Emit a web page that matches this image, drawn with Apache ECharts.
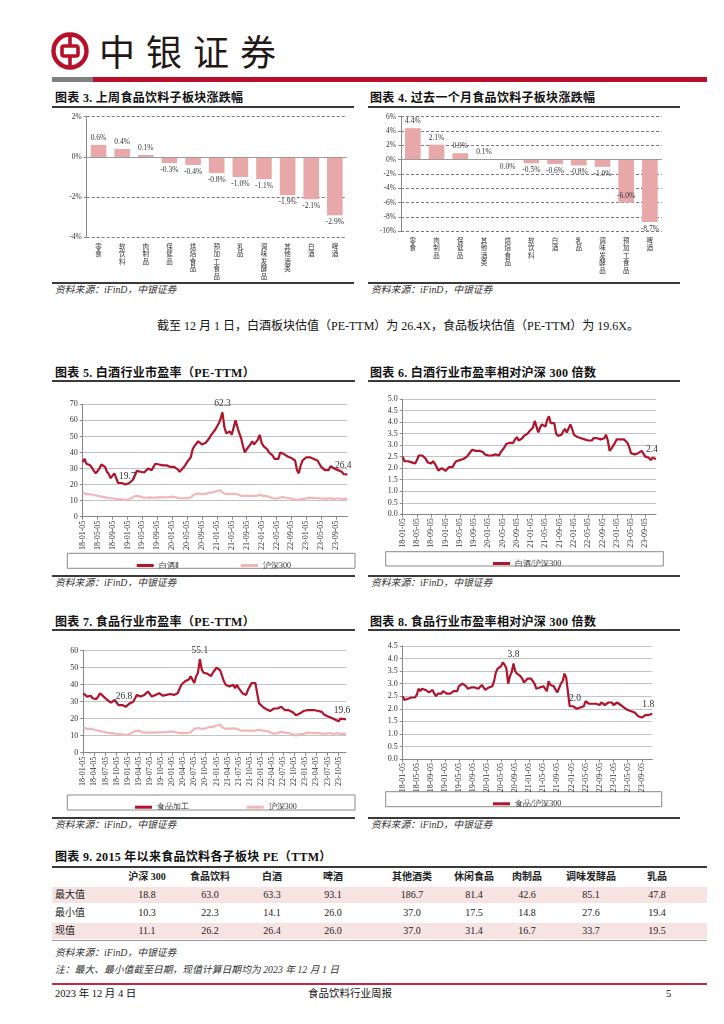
<!DOCTYPE html>
<html><head><meta charset="utf-8">
<script src="https://cdn.jsdelivr.net/npm/echarts@6/dist/echarts.min.js"></script>
<style>
html,body{margin:0;padding:0;background:#fff;}
body{width:724px;height:1024px;position:relative;overflow:hidden;font-family:"Liberation Serif","Noto Sans CJK SC",serif;color:#222;}
.a{position:absolute;white-space:nowrap;}
.t{position:absolute;white-space:nowrap;font-family:"Liberation Serif","Noto Sans CJK SC";font-weight:bold;font-size:12px;line-height:14px;color:#111;letter-spacing:0.3px;}
.hl{position:absolute;height:1.5px;background:#3a3a3a;}
.src{position:absolute;white-space:nowrap;font-style:italic;font-size:9.8px;line-height:12px;color:#333;font-family:"Liberation Serif","Noto Sans CJK SC";}
.ch{position:absolute;}
.cell{position:absolute;text-align:center;font-size:10px;line-height:14px;white-space:nowrap;}
</style></head>
<body>
<script>
// ---------------- DATA ----------------
const barCats3 = ['零食','软饮料','肉制品','保健品','烘焙食品','预加工食品','乳品','调味发酵品','其他酒类','白酒','啤酒'];
const barVals3 = [0.6,0.4,0.1,-0.3,-0.4,-0.8,-1.0,-1.1,-1.9,-2.1,-2.9];
const barCats4 = ['零食','肉制品','保健品','其他酒类','烘焙食品','软饮料','白酒','乳品','调味发酵品','预加工食品','啤酒'];
const barVals4 = [4.4,2.1,0.9,0.1,0.0,-0.5,-0.6,-0.8,-1.0,-6.0,-8.7];

// semi-monthly observation dates 18-01-05 ... 23-12-01
const pad = n => (n < 10 ? '0' : '') + n;
const dates = [];
for (let y = 18; y <= 23; y++) {
  for (let m = 1; m <= 12; m++) {
    if (y === 23 && m === 12) { dates.push('23-12-01'); break; }
    dates.push(y + '-' + pad(m) + '-05');
    dates.push(y + '-' + pad(m) + '-20');
  }
}

const baijiuPE = [
 34,36, 33,32, 32,30.5, 28.5,27, 28,30, 32.5,32, 31,28, 26.5,24, 25,27, 24,21, 20.5,21, 20,20,
 19.5,21, 22,23, 25.5,28.5, 28.5,28, 27.5,27.5, 28.5,30, 29.5,29, 31,33, 33,32.5, 32,32, 32.5,32, 31.5,31,
 31,31, 30,29.5, 28,29, 30.5,32, 34,35, 37,42, 44,44.5, 47,48, 45,45.5, 46,47, 49,51, 52,54,
 55,58, 61,65, 56,52, 52,53, 51,52, 60,56, 52,49, 44,40, 42,43, 45,47, 45,44, 48,51,
 46,44, 43,42, 40,39, 38,36, 35,36, 40,41, 39,38, 37.5,37, 36.5,36, 35,29, 27,32, 35,36,
 37,37.5, 37,37, 36,35.5, 35,33, 31,30, 29,28.5, 29,31.5, 30.5,30, 29.5,29, 28.5,28, 26.5,27, 26.4];

const hs300PE = [
 15,15.5, 14,14, 14,13.5, 13.5,13, 13,13, 12.5,12, 12,12, 11.5,11.5, 11.5,11.5, 11,11, 11,11, 10.7,10.5,
 10.5,11, 11.5,12.5, 12.8,13, 13,12.5, 12,11.5, 11.8,12, 12,12, 11.8,11.7, 12,12, 12,12, 12,12, 12.2,12.5,
 12.5,12, 12,12, 11.5,11, 11.5,11.8, 11.5,11.8, 12,12.5, 14,14, 14.5,14.5, 14,14, 14.2,14.5, 15,15, 15.2,15.5,
 16,16.2, 16.5,15, 14.5,14, 14,14.2, 14,14.3, 14.5,14, 13.5,13, 13,13, 13,13, 13,13, 13,13, 13.2,13.5,
 13.5,13, 13,12.8, 12,12, 11.5,11.2, 11.3,11.5, 12,12.3, 12.2,11.8, 11.8,11.6, 11.3,11, 10.5,10.2, 10.5,11, 11,11,
 11.3,11.8, 11.8,11.7, 11.5,11.5, 11.7,11.5, 11.3,11.2, 11.3,11.2, 11.3,11.6, 11.2,11, 11.2,11.5, 11.2,11, 11.2,11.2, 11.1];

const baijiuRel = [
 2.5,2.3, 2.35,2.3, 2.3,2.25, 2.2,2.2, 2.35,2.55, 2.6,2.55, 2.5,2.4, 2.25,2.2, 2.2,2.3, 2.2,2.05, 1.9,1.92, 2.0,2.0,
 1.88,1.95, 2.05,2.0, 2.05,2.2, 2.3,2.3, 2.35,2.4, 2.4,2.45, 2.5,2.55, 2.7,2.8, 2.75,2.75, 2.7,2.75, 2.8,2.7, 2.6,2.6,
 2.55,2.55, 2.55,2.5, 2.6,2.6, 2.55,2.7, 2.8,2.9, 3.05,3.0, 3.1,3.15, 3.1,3.25, 3.35,3.2, 3.2,3.3, 3.4,3.4, 3.5,3.6,
 3.6,3.75, 4.05,3.8, 3.55,3.75, 3.9,3.85, 3.8,4.1, 4.25,3.95, 3.9,3.95, 3.5,3.4, 3.35,3.45, 3.6,3.7, 3.55,3.6, 3.9,3.7,
 3.45,3.4, 3.35,3.35, 3.3,3.3, 3.25,3.3, 3.2,3.15, 3.2,3.3, 3.35,3.3, 3.3,3.25, 3.3,3.3, 3.45,3.2, 2.75,2.85, 2.9,3.1,
 3.25,3.3, 3.25,3.3, 3.25,3.2, 3.1,2.9, 2.65,2.6, 2.6,2.55, 2.65,2.7, 2.75,2.7, 2.5,2.45, 2.45,2.35, 2.45,2.4, 2.4];

const foodPE = [
 35,35.5, 33,34, 33.5,32, 31,31.5, 33,35, 34,33, 32,31, 30,29.5, 29,31, 30,28, 27,28, 27.5,27,
 28,29, 29.5,30, 32,34, 33.5,33, 34,34, 35,36, 34.5,33, 32,34, 34.5,35, 34,33.5, 34,34, 34,34.5,
 35,34, 34,35, 36,40, 40.5,42, 43,43, 45,46, 41,45, 47,55, 49,47, 47,46.5, 46,45, 47,48.5,
 50,49, 48.5,48, 42,40, 39,39, 38.5,40, 38,40, 38,37, 35,34, 34,37, 39,41, 40,41, 40.5,29,
 28,27, 26,25.5, 25,24.5, 25,26, 25.5,26, 26,27, 26,25, 25,25, 24.5,24, 23,22, 21.5,23, 24,24.5,
 25,25, 25,25, 25.5,25, 25,24.5, 24.5,24, 22.5,22, 21.5,21, 20.5,20, 19.5,19, 18.5,20, 19.5,19.8, 19.6];

const foodRel = [
 2.5,2.35, 2.4,2.4, 2.45,2.45, 2.45,2.45, 2.55,2.8, 2.7,2.8, 2.85,2.75, 2.7,2.65, 2.7,2.75, 2.6,2.5, 2.6,2.6, 2.6,2.7,
 2.65,2.6, 2.6,2.6, 2.55,2.7, 2.65,2.7, 2.9,2.95, 3.0,2.95, 2.9,2.8, 2.8,2.85, 2.85,2.85, 2.85,2.8, 2.85,2.95, 2.85,2.75,
 2.8,2.85, 2.9,2.9, 3.1,3.45, 3.6,3.65, 3.7,3.85, 3.75,3.6, 3.0,3.3, 3.45,3.8, 3.5,3.4, 3.35,3.3, 3.2,3.05, 3.1,3.2,
 3.15,3.2, 3.1,3.0, 2.8,2.75, 2.85,2.9, 2.9,2.85, 2.7,3.1, 2.95,2.9, 2.9,2.75, 2.65,2.7, 3.0,3.1, 3.4,3.25, 3.2,2.1,
 2.15,2.1, 2.05,2.0, 1.95,2.05, 2.05,2.1, 2.3,2.25, 2.2,2.15, 2.2,2.15, 2.2,2.2, 2.15,2.25, 2.2,2.15, 2.2,2.25, 2.3,2.25,
 2.15,2.2, 2.25,2.2, 2.15,2.1, 2.05,2.0, 1.95,1.95, 1.9,1.9, 1.85,1.85, 1.7,1.65, 1.65,1.6, 1.75,1.75, 1.75,1.8, 1.8];

// annotated points: [index, text]
const notes5 = [[24,'19.7'],[75,'62.3'],[142,'26.4']];
const notes6 = [[142,'2.4']];
const notes7 = [[22,'26.8'],[63,'55.1'],[142,'19.6']];
const notes8 = [[63,'3.8'],[98,'2.0'],[142,'1.8']];

const tblCols = ['沪深 300','食品饮料','白酒','啤酒','其他酒类','休闲食品','肉制品','调味发酵品','乳品'];
const tblRows = ['最大值','最小值','现值'];
const tblMax = [18.8,63.0,63.3,93.1,186.7,81.4,42.6,85.1,47.8];
const tblMin = [10.3,22.3,14.1,26.0,37.0,17.5,14.8,27.6,19.4];
const tblCur = [11.1,26.2,26.4,26.0,37.0,31.4,16.7,33.7,19.5];
</script>

<!-- header -->
<svg class="a" style="left:50px;top:31px" width="40" height="40" viewBox="0 0 40 40">
  <circle cx="20" cy="20" r="16.5" fill="none" stroke="#b8102a" stroke-width="4.4"/>
  <rect x="12" y="15" width="16" height="10" rx="2" fill="none" stroke="#b8102a" stroke-width="3.6"/>
  <line x1="20" y1="3" x2="20" y2="15" stroke="#b8102a" stroke-width="3.6"/>
  <line x1="20" y1="25" x2="20" y2="37" stroke="#b8102a" stroke-width="3.6"/>
</svg>
<div class="a" style="left:99px;top:27px;font-family:'Noto Sans CJK SC';font-size:36px;line-height:46px;letter-spacing:11px;color:#231815;">中银证券</div>
<div class="a" style="left:52px;top:77px;width:41px;height:5px;background:#808080"></div>
<div class="a" style="left:93px;top:77px;width:614px;height:5px;background:#b8102a"></div>

<!-- chart 3/4 titles -->
<div class="t" style="left:55px;top:91px">图表 3. 上周食品饮料子板块涨跌幅</div>
<div class="hl" style="left:52px;top:106px;width:302px"></div>
<div class="t" style="left:370px;top:91px">图表 4. 过去一个月食品饮料子板块涨跌幅</div>
<div class="hl" style="left:368px;top:106px;width:312px"></div>
<div id="c3" class="ch" style="left:52px;top:108px;width:305px;height:172px"></div>
<div id="c4" class="ch" style="left:365px;top:108px;width:320px;height:172px"></div>
<div class="hl" style="left:52px;top:282px;width:302px"></div>
<div class="src" style="left:55px;top:284px">资料来源：iFinD，中银证券</div>
<div class="hl" style="left:368px;top:282px;width:312px"></div>
<div class="src" style="left:371px;top:284px">资料来源：iFinD，中银证券</div>

<div class="a" style="left:157px;top:318px;font-size:12px;line-height:16px;color:#111;font-family:'Liberation Serif','Noto Sans CJK SC'">截至 12 月 1 日，白酒板块估值（PE-TTM）为 26.4X，食品板块估值（PE-TTM）为 19.6X。</div>

<!-- chart 5/6 -->
<div class="t" style="left:55px;top:366px">图表 5. 白酒行业市盈率（PE-TTM）</div>
<div class="hl" style="left:52px;top:380px;width:303px"></div>
<div class="t" style="left:370px;top:366px">图表 6. 白酒行业市盈率相对沪深 300 倍数</div>
<div class="hl" style="left:368px;top:380px;width:312px"></div>
<div id="c5" class="ch" style="left:52px;top:390px;width:305px;height:183px"></div>
<div id="c6" class="ch" style="left:365px;top:390px;width:320px;height:183px"></div>
<div class="hl" style="left:52px;top:575px;width:303px"></div>
<div class="src" style="left:55px;top:577px">资料来源：iFinD，中银证券</div>
<div class="hl" style="left:368px;top:575px;width:312px"></div>
<div class="src" style="left:371px;top:577px">资料来源：iFinD，中银证券</div>

<!-- chart 7/8 -->
<div class="t" style="left:55px;top:615px">图表 7. 食品行业市盈率（PE-TTM）</div>
<div class="hl" style="left:52px;top:629px;width:303px"></div>
<div class="t" style="left:370px;top:615px">图表 8. 食品行业市盈率相对沪深 300 倍数</div>
<div class="hl" style="left:368px;top:629px;width:312px"></div>
<div id="c7" class="ch" style="left:52px;top:640px;width:305px;height:176px"></div>
<div id="c8" class="ch" style="left:365px;top:640px;width:320px;height:176px"></div>
<div class="hl" style="left:52px;top:817px;width:303px"></div>
<div class="src" style="left:55px;top:819px">资料来源：iFinD，中银证券</div>
<div class="hl" style="left:368px;top:817px;width:312px"></div>
<div class="src" style="left:371px;top:819px">资料来源：iFinD，中银证券</div>

<!-- table -->
<div class="t" style="left:55px;top:850px">图表 9. 2015 年以来食品饮料各子板块 PE（TTM）</div>
<div class="hl" style="left:52px;top:866px;width:655px"></div>
<div id="tbl"></div>
<div class="src" style="left:55px;top:947px">资料来源：iFinD，中银证券</div>
<div class="src" style="left:55px;top:964px">注：最大、最小值截至日期，现值计算日期均为 2023 年 12 月 1 日</div>

<!-- footer -->
<div class="a" style="left:52px;top:983px;width:655px;height:1.5px;background:#c2283f"></div>
<div class="a" style="left:55px;top:987px;font-size:10.5px;line-height:14px;color:#111">2023 年 12 月 4 日</div>
<div class="a" style="left:308px;top:987px;font-size:10.5px;line-height:14px;color:#111">食品饮料行业周报</div>
<div class="a" style="left:666px;top:987px;font-size:10.5px;line-height:14px;color:#111">5</div>

<script>
const SERIF = 'Liberation Serif';
const DARK = '#b0142c', PALE = '#f1b6b8', BAR = '#e8a8a9';

// ---------- table ----------
(function(){
  const box = document.getElementById('tbl');
  const colX = [147,210,272,333,412,474,527,591,657];
  const rowY = [895,913,931];
  const vals = [tblMax, tblMin, tblCur];
  let html = '';
  html += `<div class="a" style="left:52px;top:887px;width:655px;height:16px;background:#f8e3e3"></div>`;
  html += `<div class="a" style="left:52px;top:923px;width:655px;height:16px;background:#f8e3e3"></div>`;
  html += `<div class="a" style="left:52px;top:940px;width:655px;height:1px;background:#999"></div>`;
  tblCols.forEach((c,i)=>{
    html += `<div class="cell" style="left:${colX[i]-40}px;width:80px;top:870px;font-weight:bold;font-family:'Liberation Serif','Noto Sans CJK SC'">${c}</div>`;
  });
  tblRows.forEach((r,j)=>{
    html += `<div class="a" style="left:55px;top:${rowY[j]-7}px;font-size:10px;line-height:14px">${r}</div>`;
    vals[j].forEach((v,i)=>{
      html += `<div class="cell" style="left:${colX[i]-40}px;width:80px;top:${rowY[j]-7}px">${v.toFixed(1)}</div>`;
    });
  });
  box.innerHTML = html;
})();

// ---------- bar charts ----------
function mkBar(id, cats, vals, grid, ymin, ymax, special) {
  const ch = echarts.init(document.getElementById(id));
  ch.setOption({
    animation: false,
    grid: grid,
    xAxis: {
      type: 'category', data: cats,
      axisLine: {show: false}, axisTick: {show: false},
      axisLabel: {interval: 0, fontSize: 6.5, lineHeight: 7.5, color: '#333', margin: 5,
        fontFamily: 'Noto Sans CJK SC', verticalAlign: 'top',
        formatter: v => v.split('').join('\n')}
    },
    yAxis: {
      type: 'value', min: ymin, max: ymax, interval: 2,
      axisLine: {show: true, lineStyle: {color: '#888'}},
      axisTick: {show: true, length: 3, lineStyle: {color: '#888'}},
      axisLabel: {formatter: '{value}%', fontSize: 7.5, fontFamily: SERIF, color: '#333', margin: 5},
      splitLine: {lineStyle: {color: '#7a7a7a', type: [3, 2], width: 1}}
    },
    series: [{
      type: 'bar', barWidth: '66%',
      itemStyle: {color: BAR},
      data: vals.map((v, i) => ({value: v,
        label: {position: (special && special[i]) ? special[i] : (v > 0 ? 'top' : 'bottom')}})),
      label: {show: true, fontSize: 7.5, fontFamily: SERIF, color: '#333', distance: 3,
        formatter: p => p.value.toFixed(1) + '%'},
      markLine: {silent: true, symbol: 'none', label: {show: false},
        lineStyle: {color: '#9a9a9a', type: 'solid', width: 1}, data: [{yAxis: 0}]}
    }]
  });
}
mkBar('c3', barCats3, barVals3, {left: 34.7, top: 8.7, width: 260, height: 125}, -4, 2);
mkBar('c4', barCats4, barVals4, {left: 36, top: 8.7, width: 260.7, height: 114.6}, -10, 6,
      {9: 'insideBottom'});

// ---------- line charts ----------
function mkLine(id, cfg) {
  const ch = echarts.init(document.getElementById(id));
  const series = cfg.series.map(s => ({
    name: s.name, type: 'line', data: s.data, symbol: 'none', z: s.z || 2,
    lineStyle: {color: s.color, width: 2.2}, itemStyle: {color: s.color},
    markPoint: s.notes ? {
      symbol: 'circle', symbolSize: 0, silent: true,
      label: {show: true, position: 'top', distance: 4, fontSize: 9.5, fontFamily: SERIF, color: '#333',
        formatter: p => p.name},
      data: s.notes.map(([i, t]) => ({coord: [i, s.data[i]], name: t,
        label: i === s.data.length - 1 ? {offset: [-4, 0]} : {}}))
    } : undefined
  }));
  ch.setOption({
    animation: false,
    grid: cfg.grid,
    xAxis: {
      type: 'category', data: dates, boundaryGap: false,
      axisLine: {lineStyle: {color: '#888', width: 1}},
      axisTick: {interval: cfg.lblInt, length: 3, lineStyle: {color: '#888'}},
      axisLabel: {interval: cfg.lblInt, rotate: 90, fontSize: 8, fontFamily: SERIF, color: '#333', margin: 4}
    },
    yAxis: {
      type: 'value', min: 0, max: cfg.ymax, interval: cfg.yint,
      axisLine: {show: true, lineStyle: {color: '#888'}},
      axisTick: {show: true, length: 3, lineStyle: {color: '#888'}},
      axisLabel: {fontSize: 8, fontFamily: SERIF, color: '#333', margin: 5,
        formatter: v => cfg.dec ? v.toFixed(1) : String(v)},
      splitLine: {lineStyle: {color: '#c4c4c4', width: 1}}
    },
    legend: cfg.legends.map(l => ({
      data: [l.name], left: l.left, top: l.top, itemWidth: 17, itemHeight: 3, icon: 'rect',
      itemGap: 4, textStyle: {fontSize: 8, fontFamily: SERIF, color: '#333'}
    })),
    graphic: [{type: 'rect', silent: true, shape: cfg.box,
      style: {fill: 'none', stroke: '#8a8a8a', lineWidth: 1}}],
    series: series
  });
}

mkLine('c5', {
  grid: {left: 30.7, top: 14.3, width: 264.6, height: 112.4},
  ymax: 70, yint: 10, dec: false, lblInt: 7,
  box: {x: 15.3, y: 163.3, width: 287.7, height: 15},
  legends: [{name: '白酒Ⅱ', left: 79.7, top: 166.5}, {name: '沪深300', left: 184, top: 166.5}],
  series: [
    {name: '沪深300', data: hs300PE, color: PALE, z: 2},
    {name: '白酒Ⅱ', data: baijiuPE, color: DARK, z: 3, notes: notes5}
  ]
});
mkLine('c6', {
  grid: {left: 37.7, top: 9, width: 253.3, height: 115.3},
  ymax: 5, yint: 0.5, dec: true, lblInt: 7,
  box: {x: 20.7, y: 161.7, width: 277.6, height: 14.3},
  legends: [{name: '白酒/沪深300', left: 123, top: 164.5}],
  series: [{name: '白酒/沪深300', data: baijiuRel, color: DARK, notes: notes6}]
});
mkLine('c7', {
  grid: {left: 31.3, top: 10.7, width: 262.7, height: 102},
  ymax: 60, yint: 10, dec: false, lblInt: 5,
  box: {x: 15.3, y: 155, width: 287.7, height: 15},
  legends: [{name: '食品加工', left: 78, top: 158.2}, {name: '沪深300', left: 189.7, top: 158.2}],
  series: [
    {name: '沪深300', data: hs300PE, color: PALE, z: 2},
    {name: '食品加工', data: foodPE, color: DARK, z: 3, notes: notes7}
  ]
});
mkLine('c8', {
  grid: {left: 37.7, top: 6, width: 249.6, height: 113},
  ymax: 4.5, yint: 0.5, dec: true, lblInt: 7,
  box: {x: 20.7, y: 151.7, width: 276, height: 15},
  legends: [{name: '食品/沪深300', left: 123, top: 154.8}],
  series: [{name: '食品/沪深300', data: foodRel, color: DARK, notes: notes8}]
});
</script>
</body></html>
